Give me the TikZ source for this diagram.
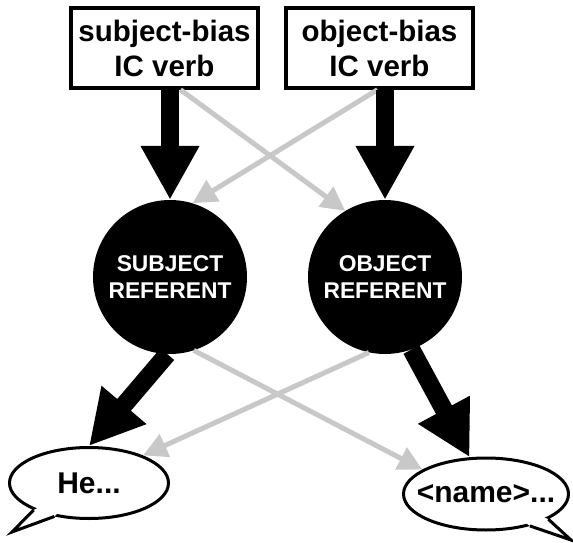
\documentclass[tikz,border=0pt]{standalone}
\usepackage{fontspec}
\setmainfont{Liberation Sans}
\usetikzlibrary{arrows.meta,shapes.geometric,calc}
\definecolor{softgray}{RGB}{200,200,200}
\tikzset{
  vbox/.style={draw, line width=3.5pt, minimum width=187pt, minimum height=80pt,
    inner sep=0pt, align=center, font=\bfseries\fontsize{29.5}{35}\selectfont},
  refnode/.style={circle, fill=black, minimum size=154pt, inner sep=0pt,
    align=center, text=white, font=\bfseries\fontsize{22.8}{27}\selectfont},
  bubble/.style={ellipse, draw, fill=white, line width=3pt, inner sep=0pt},
  bubbletext/.style={font=\bfseries\fontsize{30}{36}\selectfont},
  strong/.style={line width=18pt, -{Triangle[length=54pt,width=55pt]}},
  weak/.style={draw=softgray, line width=5pt, -{Triangle[length=24pt,width=24pt]}},
  tail/.style={line width=3pt, line join=miter},
}
\begin{document}
\begin{tikzpicture}[x=1pt, y=-1pt]
\useasboundingbox (0,0) rectangle (573,543);

% verb boxes
\node[vbox] (sv) at (164.5,48) {subject-bias\\IC verb};
\node[vbox] (ov) at (379.5,48) {object-bias\\IC verb};

% referent circles
\node[refnode] (subj) at (170,277) {SUBJECT\\REFERENT};
\node[refnode] (obj) at (385,277) {OBJECT\\REFERENT};

% speech bubbles
\node[bubble, minimum width=159pt, minimum height=71pt] (he) at (89,483) {};
\fill[white] ($(he.206)!5pt!(he.center)$) -- (he.206) -- (12,532) coordinate (hetip) -- (he.224) -- ($(he.224)!5pt!(he.center)$) -- cycle;
\draw[tail] (he.206) -- (hetip) -- (he.224);
\node[bubbletext] (heT) at (he.center) {He...};

\node[bubble, minimum width=165pt, minimum height=72pt] (nm) at (486,494) {};
\fill[white] ($(nm.-22)!5pt!(nm.center)$) -- (nm.-22) -- (571,540) coordinate (nmtip) -- (nm.-36) -- ($(nm.-36)!5pt!(nm.center)$) -- cycle;
\draw[tail] (nm.-22) -- (nmtip) -- (nm.-36);
\node[bubbletext] (nmT) at (nm.center) {<name>...};

% verb bias to referent
\draw[weak] ([xshift=16pt]sv.south) -- (obj.121);
\draw[weak] ([xshift=-2pt]ov.south) -- (subj.73);
\draw[strong] (sv.south -| subj) -- (subj.north);
\draw[strong] (ov.south -| obj) -- (obj.north);

% referent to expression
\draw[weak] (subj.288) -- (nm.159);
\draw[weak] (obj.258) -- (he.27);
\draw[strong] (subj.268) -- (he.north);
\draw[strong] (obj.290) -- (nm.114);
\end{tikzpicture}
\end{document}
